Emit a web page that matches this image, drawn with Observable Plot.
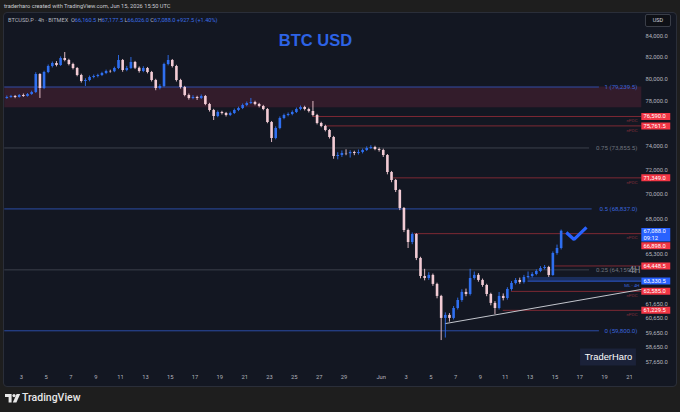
<!DOCTYPE html>
<html><head><meta charset="utf-8">
<script src="https://cdn.jsdelivr.net/npm/d3@7"></script>
<script src="https://cdn.jsdelivr.net/npm/@observablehq/plot@0.6"></script>
<style>
html,body{margin:0;padding:0;background:#1e1e1e;width:680px;height:412px;overflow:hidden;font-family:Roboto,"Liberation Sans",sans-serif;}
#hdr{position:absolute;left:4px;top:2px;font-size:5.7px;color:#c9cbd1;line-height:9px;white-space:nowrap}
#panel{position:absolute;left:4px;top:13px;width:672px;height:373px;background:#131722;border-radius:3px;overflow:hidden;outline:1px solid #2a2e39}
#legend{position:absolute;left:4px;top:3px;font-size:5.6px;color:#b2b5be;white-space:nowrap;line-height:8px}
#legend .v{color:#3b6fe8}
#usd{position:absolute;left:641px;top:1px;width:24px;height:11px;border:1px solid #3a3e48;border-radius:2px;background:#0e1016;color:#d1d4dc;font-size:5.5px;line-height:11px;text-align:center}
#foot{position:absolute;left:0;top:386px;width:680px;height:26px}
#foot svg{position:absolute;left:5px;top:8px}
#foot span{position:absolute;left:22px;top:5px;font-size:10.5px;color:#e8e8e8;font-weight:500;line-height:14px}
</style></head>
<body>
<div id="hdr">traderharo created with TradingView.com, Jun 15, 2026 15:50 UTC</div>
<div id="panel">
  <div id="chart"></div>
  <div id="legend">BTCUSD.P · 4h · BITMEX&nbsp;&nbsp;O<span class="v">66,160.5</span>&nbsp;H<span class="v">67,177.5</span>&nbsp;L<span class="v">66,026.0</span>&nbsp;C<span class="v">67,088.0</span>&nbsp;<span class="v">+927.5 (+1.40%)</span></div>
  <div id="usd">USD</div>
</div>
<div id="foot">
  <svg width="16" height="9" viewBox="0 0 16 9"><path d="M0 0H6.6V8.5H3.6V3H0Z" fill="#e8e8e8"/><circle cx="9" cy="1.6" r="1.6" fill="#e8e8e8"/><path d="M11.6 0H15.2L11.4 8.5H7.8Z" fill="#e8e8e8"/></svg>
  <span>TradingView</span>
</div>
<script>
// ---- data (8h candles) ----
const candleStart = "2026-05-01T16:00:00Z";
const candleHours = 8;
const firstOpen = 78200;
const closes = [
78290,78380,78290,78470,78380,78560,78740,80390,79100,80580,
81140,81420,81240,81890,81700,81330,80950,80300,79750,79840,
80120,80210,80300,80490,80670,80650,80950,81700,80770,80950,
81520,80980,80670,80950,80580,79840,79100,79290,81330,81700,
81140,79840,79200,78470,78200,78290,78200,78380,77660,77120,
76590,76940,76850,76680,76850,77120,77300,77570,77750,77840,
77660,77480,77210,76060,74670,75530,76410,76680,76770,76940,
77210,77390,77210,77030,76680,75970,75710,75360,74750,73130,
73220,73390,73370,73470,73390,73470,73640,73810,73900,73730,
73640,73220,71790,71130,70320,68870,67140,66220,66830,65010,
63670,63520,63750,63090,62220,60660,60870,60660,61360,61930,
62510,62360,63520,63750,63380,63010,62360,61720,61360,62220,
62070,62720,63160,63380,63230,63600,63670,63820,64040,64260,
64330,63750,65380,65760,67088.0];
const highs = [
78420,78480,78470,78560,78600,78650,78860,80560,80470,80700,
81280,81560,81600,82050,82460,81820,81450,81050,80420,80000,
80250,80350,80420,80600,80800,80790,81080,82180,81800,81150,
81990,81620,81100,81120,81050,80680,79950,79450,81450,82180,
81800,81250,79950,79300,78600,78450,78400,78520,78470,77760,
77220,77080,77050,76950,76980,77250,77420,77700,77880,78200,
77950,77760,77580,77300,76150,75680,76550,76800,76900,77080,
77340,77520,77500,77330,77930,76780,76080,75820,75450,74850,
73450,73600,73700,73620,73580,73680,73760,73950,74050,74000,
73850,73750,73300,71880,71220,70400,68950,67250,66950,66900,
65100,64200,63950,63850,63180,62300,61050,61000,61500,62100,
62700,62750,64200,64000,63880,63480,63100,62450,61850,62500,
62400,62850,63300,63520,63550,63750,64000,63950,64160,64400,
64480,64420,65500,66020,67177.5];
const lows = [
78120,78210,78180,78230,78300,78320,78480,78650,78200,79000,
80470,81000,81100,81150,81580,81200,80820,80180,79600,79290,
79720,80000,80080,80200,80380,80520,80560,80850,80600,80650,
80850,80850,80520,80560,80450,79700,78900,78980,79180,81200,
81000,79700,79050,78350,78050,78080,78020,78100,77550,76980,
76235,76480,76720,76540,76580,76760,77020,77200,77460,77650,
77540,77350,77100,75950,74320,74550,75420,76300,76560,76650,
76850,77100,77080,76900,76560,75850,75600,75240,74620,72900,
72850,73050,73200,73000,73200,73250,73350,73550,73720,73620,
73500,73050,71600,70950,70150,68700,66980,65760,66050,64850,
63500,63350,63380,62950,62050,59130,59300,60400,60550,61250,
61800,62200,62250,63400,63250,62880,62200,61550,60930,61250,
61900,61950,62600,63050,63100,63120,63500,63560,63720,63950,
64150,63600,63680,65250,65650];

const priceTicks = [84000,82000,80000,78000,74000,72000,70000,68000,65300,61650,60650,59650,58650,57650];
const dateTicks = ["2026-05-03","2026-05-05","2026-05-07","2026-05-09","2026-05-11","2026-05-13","2026-05-15","2026-05-17","2026-05-19","2026-05-21","2026-05-23","2026-05-25","2026-05-27","2026-05-29","2026-06-01","2026-06-03","2026-06-05","2026-06-07","2026-06-09","2026-06-11","2026-06-13","2026-06-15","2026-06-17","2026-06-19","2026-06-21"];
const dateLabels = ["3","5","7","9","11","13","15","17","19","21","23","25","27","29","Jun","3","5","7","9","11","13","15","17","19","21"];

const fibPrices = [79239.5, 73855.5, 68837.0, 64159.5, 59800.0];
const fibLabels = ["1 (79,239.5)","0.75 (73,855.5)","0.5 (68,837.0)","0.25 (64,159.5)","0 (59,800.0)"];
const fibKinds = ["blue","gray","blue","gray","blue"];
const fibEnds = ["2026-06-18T14:00:00Z","2026-06-17T19:00:00Z","2026-06-18T00:00:00Z","2026-06-17T19:00:00Z","2026-06-18T14:00:00Z"];
const fibStart = "2026-05-01T16:00:00Z";

const pocPrices = [76590.0, 75761.5, 71349.0, 66898.0, 64448.5, 62585.0, 61229.5];
const pocStarts = ["2026-05-26T12:00:00Z","2026-05-27T12:00:00Z","2026-06-02T00:00:00Z","2026-06-03T16:00:00Z","2026-06-15T00:00:00Z","2026-06-11T12:00:00Z","2026-06-10T20:00:00Z"];
const pocTagged = [true,true,true,true,false,true,true];
const lineEnd = "2026-06-22T00:00:00Z";

const zoneTop = 79239.5, zoneBottom = 77360;
const mlPrice = 63330.5, mlTop = 63600, mlStart = "2026-06-12T20:00:00Z";
const trendTimes = ["2026-06-06T04:00:00Z","2026-06-22T00:00:00Z"];
const trendPrices = [60300, 62730];
const checkTimes = ["2026-06-15T22:00:00Z","2026-06-16T13:00:00Z","2026-06-17T13:00:00Z"];
const checkPrices = [66990, 66450, 67380];
const lastPrice = 67088.0, lastTimer = "09:12";
const titleText = "BTC USD", titleTime = "2026-05-26T17:00:00Z", titlePrice = 83600;
const brandText = "TraderHaro", brandPrice = 58015, brandFrom = "2026-06-17T01:30:00Z", brandTo = "2026-06-21T13:40:00Z", brandMid = "2026-06-19T07:35:00Z";

// ---- build ----
const D = s => new Date(s);
const t0 = D(candleStart).getTime(), step = candleHours*3600e3;
const candles = closes.map((c,i)=>({t:new Date(t0+i*step+step/2), open: i ? closes[i-1] : firstOpen, close:c, high:highs[i], low:lows[i]}));
const upC = candles.filter(d=>d.close>=d.open), dnC = candles.filter(d=>d.close<d.open);
const UP = "#2f6ff0", DN = "#f2cbd4";
const BLUE_LINE = "#2b4ca6", BLUE_TXT = "#3a64dc", GRAY_LINE = "#3c404b", GRAY_TXT = "#6f737d";
const RED_LINE = "#7e2934", RED_TXT = "#82303b";
const fibs = fibPrices.map((p,i)=>({p, label:fibLabels[i], kind:fibKinds[i], end:D(fibEnds[i]), start:D(fibStart)}));
const pocs = pocPrices.map((p,i)=>({p, start:D(pocStarts[i]), end:D(lineEnd), tagged:pocTagged[i]}));
const fmt = d3.format(",.1f");
const font = "Roboto, 'Liberation Sans', sans-serif";
const axisX1 = D("2026-06-22T00:00:00Z"), axisX2 = D("2026-06-24T08:00:00Z");

const chart = Plot.plot({
  width: 672, height: 373, margin: 0,
  style: {background: "transparent", fontFamily: font},
  x: {type: "utc", domain: [D("2026-05-03T00:00:00Z"), D("2026-06-21T00:00:00Z")], range: [16.8, 624.9], axis: null},
  y: {type: "log", domain: [57650, 84000], range: [349, 23], axis: null},
  marks: [
    Plot.rect([{}], {x1: D(fibStart), x2: D(lineEnd), y1: zoneBottom, y2: zoneTop, fill: "#331c2b"}),
    Plot.rect([{}], {x1: D(mlStart), x2: D(lineEnd), y1: mlPrice, y2: mlTop, fill: "#1b2e5c"}),
    Plot.ruleY(fibs, {y: "p", x1: "start", x2: "end", stroke: d => d.kind === "blue" ? BLUE_LINE : GRAY_LINE, strokeWidth: 1}),
    Plot.ruleY(pocs, {y: "p", x1: "start", x2: "end", stroke: RED_LINE, strokeWidth: 1}),
    Plot.ruleY([mlPrice], {x1: D(mlStart), x2: D(lineEnd), stroke: "#2f5fe0", strokeWidth: 1}),
    Plot.line(trendTimes.map((t,i)=>({t:D(t), p:trendPrices[i]})), {x: "t", y: "p", stroke: "#c3c6cd", strokeWidth: 1}),
    Plot.ruleX(upC, {x: "t", y1: "low", y2: "high", stroke: UP, strokeWidth: 0.9}),
    Plot.ruleX(dnC, {x: "t", y1: "low", y2: "high", stroke: DN, strokeWidth: 0.9}),
    Plot.ruleX(upC, {x: "t", y1: "open", y2: "close", stroke: UP, strokeWidth: 2.6}),
    Plot.ruleX(dnC, {x: "t", y1: "open", y2: "close", stroke: DN, strokeWidth: 2.6}),
    Plot.line(checkTimes.map((t,i)=>({t:D(t), p:checkPrices[i]})), {x: "t", y: "p", stroke: "#2962ff", strokeWidth: 3.2, strokeLinejoin: "miter", strokeLinecap: "butt"}),
    Plot.text([titleText], {x: D(titleTime), y: titlePrice, text: d => d, fill: "#2d63e6", fontSize: 16.5, fontWeight: "bold", fontFamily: "'Liberation Sans', Arial, sans-serif"}),
    Plot.ruleY([brandPrice], {x1: D(brandFrom), x2: D(brandTo), stroke: "#1b2239", strokeWidth: 17}),
    Plot.text([brandText], {x: D(brandMid), y: brandPrice, text: d => d, fill: "#ffffff", fontSize: 9.4, fontFamily: "'Liberation Sans', Arial, sans-serif"}),
    Plot.text(fibs, {y: "p", text: "label", frameAnchor: "right", dx: -39, textAnchor: "end", fill: d => d.kind === "blue" ? BLUE_TXT : GRAY_TXT, fontSize: 6.2}),
    Plot.text(pocs.filter(d=>d.tagged), {y: "p", text: () => "nPOC", frameAnchor: "right", dx: -39, dy: 4.3, textAnchor: "end", fill: RED_TXT, fontSize: 4.4}),
    Plot.text([mlPrice], {y: d => d, text: () => "ML - 4H", frameAnchor: "right", dx: -37, dy: 4.5, textAnchor: "end", fill: BLUE_TXT, fontSize: 4.4}),
    Plot.text([fibPrices[3]], {y: d => d, text: () => "4H", frameAnchor: "right", dx: -36, textAnchor: "end", fill: "#8a8e98", fontSize: 9}),
    Plot.text(priceTicks, {y: d => d, text: d => fmt(d), frameAnchor: "right", dx: -31, textAnchor: "start", fill: "#b2b5be", fontSize: 5.8}),
    Plot.ruleY(pocs.filter(d=>d.p !== 66898.0), {y: "p", x1: axisX1, x2: axisX2, stroke: "#f23645", strokeWidth: 7}),
    Plot.text(pocs.filter(d=>d.p !== 66898.0), {y: "p", text: d => fmt(d.p), frameAnchor: "right", dx: -33, textAnchor: "start", fill: "#ffffff", fontSize: 5.8}),
    Plot.ruleY([66898.0], {x1: axisX1, x2: axisX2, dy: 12, stroke: "#f23645", strokeWidth: 7}),
    Plot.text([66898.0], {y: d => d, dy: 12, text: d => fmt(d), frameAnchor: "right", dx: -33, textAnchor: "start", fill: "#ffffff", fontSize: 5.8}),
    Plot.ruleY([mlPrice], {x1: axisX1, x2: axisX2, stroke: "#2962ff", strokeWidth: 7}),
    Plot.text([mlPrice], {y: d => d, text: d => fmt(d), frameAnchor: "right", dx: -33, textAnchor: "start", fill: "#ffffff", fontSize: 5.8}),
    Plot.ruleY([lastPrice], {x1: axisX1, x2: axisX2, dy: 3.6, stroke: "#2962ff", strokeWidth: 13.5}),
    Plot.text([lastPrice], {y: d => d, dy: 0.4, text: d => fmt(d), frameAnchor: "right", dx: -33, textAnchor: "start", fill: "#ffffff", fontSize: 5.8}),
    Plot.text([lastPrice], {y: d => d, dy: 7, text: () => lastTimer, frameAnchor: "right", dx: -33, textAnchor: "start", fill: "#ffffff", fontSize: 5.8}),
    Plot.text(dateTicks.map((d,i)=>({t:D(d+"T00:00:00Z"), label:dateLabels[i]})), {x: "t", text: "label", frameAnchor: "bottom", dy: -8, fill: "#b2b5be", fontSize: 5.8})
  ]
});
document.getElementById("chart").appendChild(chart);
</script>
</body></html>
